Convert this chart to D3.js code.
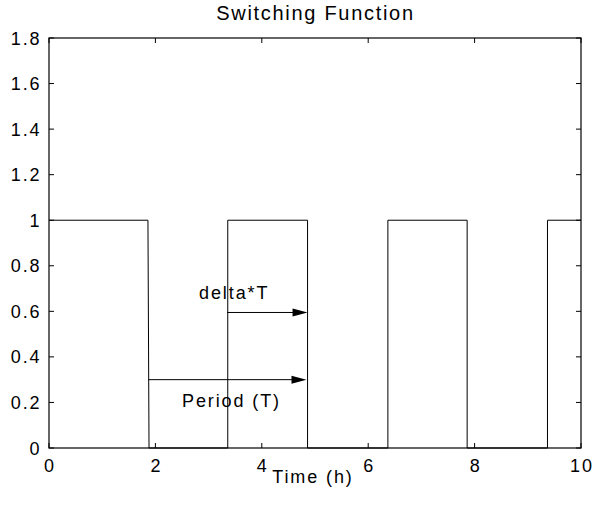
<!DOCTYPE html>
<html>
<head>
<meta charset="utf-8">
<script src="https://cdn.jsdelivr.net/npm/d3@7"></script>
<style>
  html, body { margin: 0; padding: 0; background: #fff; }
  text { font-family: "Liberation Sans", Arial, Helvetica, sans-serif; font-size: 18px; letter-spacing: 1.9px; fill: #000; }
  text.title { font-size: 20px; letter-spacing: 1.7px; }
</style>
</head>
<body>
<script>
// ---- data ----
const times  = [0, 1.86, 1.88, 3.36, 3.36, 4.86, 4.86, 6.37, 6.37, 7.86, 7.86, 9.37, 9.37, 10];
const values = [1, 1,    0,    0,    1,    1,    0,    0,    1,    1,    0,    0,    1,    1];
const xTicks = [0, 2, 4, 6, 8, 10];
const yTicks = [0, 0.2, 0.4, 0.6, 0.8, 1, 1.2, 1.4, 1.6, 1.8];
const arrowStartX = [1.87, 3.35];
const arrowEndX   = [4.84, 4.86];
const arrowY      = [0.3, 0.595];
const labelTexts  = ["Period (T)", "delta*T"];
const labelX      = [2.5, 2.82];
const labelY      = [0.182, 0.654];
const titleText = "Switching Function";
const xLabelText = "Time (h)";

// ---- layout ----
const W = 592, H = 508;
const L = 49, R = 581, T = 38, B = 448;

const svg = d3.select("body").append("svg").attr("width", W).attr("height", H);

const x = d3.scaleLinear().domain([0, 10]).range([L, R]);
const y = d3.scaleLinear().domain([0, 1.8]).range([B, T]);

// signal
const line = d3.line().x(d => x(d[0])).y(d => y(d[1]));
svg.append("path")
  .datum(times.map((t, i) => [t, values[i]]))
  .attr("d", line)
  .attr("fill", "none")
  .attr("stroke", "#000")
  .attr("stroke-width", 1);

// axes box
const tickLen = 5;
const g = svg.append("g");
g.append("rect").attr("x", L).attr("y", T).attr("width", R - L).attr("height", B - T)
  .attr("fill", "none").attr("stroke", "#000").attr("stroke-width", 1.2);

// x ticks (inward, bottom and top)
xTicks.forEach(v => {
  g.append("line").attr("x1", x(v)).attr("x2", x(v)).attr("y1", B).attr("y2", B - tickLen).attr("stroke", "#000");
  g.append("line").attr("x1", x(v)).attr("x2", x(v)).attr("y1", T).attr("y2", T + tickLen).attr("stroke", "#000");
  g.append("text").attr("x", x(v) + 1).attr("y", 471.5).attr("text-anchor", "middle").text(v);
});
// y ticks (inward, left and right)
yTicks.forEach(v => {
  g.append("line").attr("x1", L).attr("x2", L + tickLen).attr("y1", y(v)).attr("y2", y(v)).attr("stroke", "#000");
  g.append("line").attr("x1", R).attr("x2", R - tickLen).attr("y1", y(v)).attr("y2", y(v)).attr("stroke", "#000");
  g.append("text").attr("x", 41.5).attr("y", y(v) + 6.5).attr("text-anchor", "end").text(d3.format("")(v));
});

// arrows
const headLen = 15, headHalf = 4;
arrowY.forEach((v, i) => {
  const x0 = x(arrowStartX[i]), x1 = x(arrowEndX[i]), yy = y(v);
  svg.append("line").attr("x1", x0).attr("x2", x1 - headLen + 1).attr("y1", yy).attr("y2", yy)
    .attr("stroke", "#000").attr("stroke-width", 1);
  svg.append("path")
    .attr("d", `M${x1},${yy} L${x1 - headLen},${yy - headHalf} L${x1 - headLen},${yy + headHalf} Z`)
    .attr("fill", "#000");
});

// annotation labels
labelTexts.forEach((s, i) => {
  svg.append("text").attr("x", x(labelX[i])).attr("y", y(labelY[i])).text(s);
});

// title and x label
svg.append("text").attr("class", "title").attr("x", (L + R) / 2 + 0.5).attr("y", 19.5).attr("text-anchor", "middle").text(titleText);
svg.append("text").attr("x", (L + R) / 2 - 2).attr("y", 483).attr("text-anchor", "middle").text(xLabelText);
</script>
</body>
</html>
